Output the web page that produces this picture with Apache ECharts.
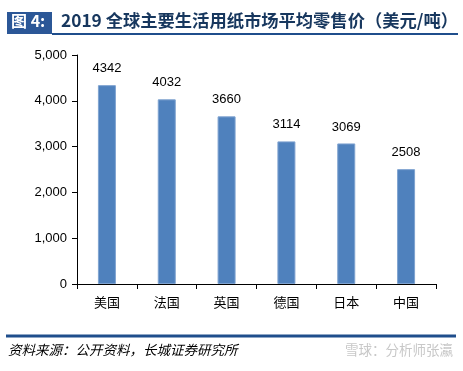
<!DOCTYPE html>
<html><head><meta charset="utf-8">
<script src="https://cdn.jsdelivr.net/npm/echarts@6/dist/echarts.min.js"></script>
<style>html,body{margin:0;padding:0;background:#fff}#c{width:463px;height:371px}</style>
</head><body><div id="c"></div>
<script>
const categories = ['美国','法国','英国','德国','日本','中国'];
const prices = [4342, 4032, 3660, 3114, 3069, 2508];
const yTicks = [0, 1000, 2000, 3000, 4000, 5000];
const titleText = '2019 全球主要生活用纸市场平均零售价（美元/吨）';
const sourceText = '资料来源：公开资料，长城证券研究所';

const chart = echarts.init(document.getElementById('c'));
const cjk = '"Microsoft YaHei","Noto Sans CJK SC",sans-serif';
chart.setOption({
  animation: false,
  grid: {left: 77, right: 27, top: 55, bottom: 87},
  xAxis: {
    type: 'category', data: categories,
    axisLine: {lineStyle: {color: '#000', width: 1}},
    axisTick: {show: true, length: 5, lineStyle: {color: '#000'}},
    axisLabel: {color: '#000', fontSize: 13, margin: 12, fontFamily: cjk}
  },
  yAxis: {
    type: 'value', min: yTicks[0], max: yTicks[yTicks.length-1], interval: 1000,
    axisLine: {show: true, lineStyle: {color: '#000', width: 1}},
    axisTick: {show: true, length: 5, lineStyle: {color: '#000'}},
    splitLine: {show: false},
    axisLabel: {color: '#000', fontSize: 13, margin: 10, fontFamily: 'Liberation Sans, Arial, sans-serif',
      formatter: v => v.toLocaleString('en-US')}
  },
  series: [{
    type: 'bar', data: prices, barWidth: 18,
    itemStyle: {color: '#4F81BD', borderColor: '#7fa3d0', borderWidth: 1},
    label: {show: true, position: 'top', distance: 10, color: '#000', fontSize: 13,
      fontFamily: 'Liberation Sans, Arial, sans-serif'}
  }],
  graphic: [
    {type: 'rect', shape: {x: 7, y: 12, width: 45, height: 22}, style: {fill: '#2B5797'}},
    {type: 'text', x: 11, y: 13, style: {text: '图 4:', fill: '#fff', font: 'bold 16px ' + cjk}},
    {type: 'text', x: 61, y: 12, style: {text: titleText, fill: '#17375E', font: 'bold 17.3px ' + cjk}},
    {type: 'line', shape: {x1: 52, y1: 34, x2: 458, y2: 34}, style: {stroke: '#1F4E8C', lineWidth: 2}},
    {type: 'line', shape: {x1: 6, y1: 336, x2: 456, y2: 336}, style: {stroke: '#1F4E8C', lineWidth: 3}},
    {type: 'text', x: 8, y: 343, style: {text: sourceText, fill: '#000', font: 'italic 13.5px ' + cjk}},
    {type: 'text', x: 345, y: 343, style: {text: '雪球：分析师张瀛', fill: '#c8c8c8', font: '13.5px ' + cjk}}
  ]
});
</script></body></html>
